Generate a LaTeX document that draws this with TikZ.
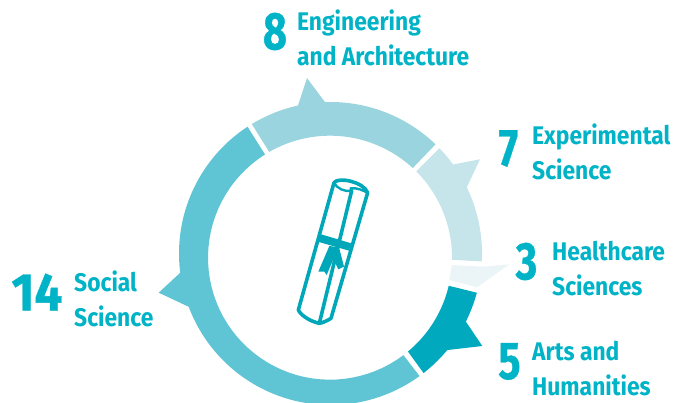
\documentclass[tikz,border=0pt]{standalone}
\usepackage{fontspec}
\setmainfont{Fira Sans}[FakeStretch=0.895]
\newfontfamily\digitfont{Fira Sans}[FakeStretch=0.78,FakeBold=0.6]
\definecolor{cEng}{HTML}{9AD5DF}
\definecolor{cExp}{HTML}{C6E5EB}
\definecolor{cHea}{HTML}{EBF5F8}
\definecolor{cArt}{HTML}{00A9BD}
\definecolor{cSoc}{HTML}{5FC4D4}
\definecolor{cTxt}{HTML}{00B3C6}
\definecolor{cIcon}{HTML}{00A7B9}
\tikzset{x=1pt,y=-1pt,
 numlabel/.style={text=cTxt,font=\digitfont\fontsize{53}{53}\selectfont\bfseries,inner sep=0pt,anchor=center},
 catlabel/.style={text=cTxt,font=\fontsize{25.5}{35}\selectfont\bfseries,inner sep=0pt,anchor=base west,align=left},
 iconline/.style={draw=cIcon,line width=3.6pt,line join=round,line cap=round,fill=none},
 arcpts/.style={samples=50}}
\def\Ox{330.5+151.5*cos(\x)}\def\Oy{253.5-151.5*sin(\x)}
\def\Ix{330+122*cos(\x)}\def\Iy{257.7-122*sin(\x)}
\begin{document}
\begin{tikzpicture}
\useasboundingbox (0,0) rectangle (682,403);
\begin{scope}
\clip (0,0) rectangle (682,403);
% Engineering
\fill[cEng] plot[arcpts,domain=121.3:102.4] ({\Ox},{\Oy}) -- (307,78) -- plot[arcpts,domain=92.1:46.1] ({\Ox},{\Oy}) -- plot[arcpts,domain=47.3:119.9] ({\Ix},{\Iy}) -- cycle;
% Experimental
\fill[cExp] plot[arcpts,domain=44:36] ({\Ox},{\Oy}) -- (480,159.3) -- plot[arcpts,domain=25.9:-3] ({\Ox},{\Oy}) -- plot[arcpts,domain=-1:45] ({\Ix},{\Iy}) -- cycle;
% Healthcare
\fill[cHea] (451.7,265) -- (483,266.7) -- (509.3,264.3) -- (477.3,287.3) -- (449.3,280) -- cycle;
% Arts
\fill[cArt] plot[arcpts,domain=-15:-26.7] ({\Ox},{\Oy}) -- (482.3,346) -- plot[arcpts,domain=-39.6:-52.1] ({\Ox},{\Oy}) -- plot[arcpts,domain=-50.3:-13.3] ({\Ix},{\Iy}) -- cycle;
% Social
\fill[cSoc] plot[arcpts,domain=-54:-159.4] ({\Ox},{\Oy}) -- (158.7,292.7) -- plot[arcpts,domain=-172.7:-236.8] ({\Ox},{\Oy}) -- plot[arcpts,domain=-237.8:-53] ({\Ix},{\Iy}) -- cycle;
\end{scope}
% Scroll icon
\begin{scope}[shift={(270,160)},x=0.3333pt,y=-0.3333pt]
\draw[iconline] (192,68) -- (85,450) .. controls (95,470) and (125,485) .. (148,490) -- (245,92);
\draw[iconline] (148,490) .. controls (160,488) and (172,482) .. (183,475) -- (293,98);
\draw[iconline] (192,68) .. controls (205,50) and (280,65) .. (293,98);
\draw[iconline,line width=2.4pt] (192,68) .. controls (200,85) and (225,97) .. (245,92) -- (242,85) .. controls (260,82) and (280,92) .. (293,98);
\fill[cIcon] (150,222) -- (244,250) -- (237,272) -- (143,245) -- cycle;
\fill[cIcon] (178,258) -- (145,335) -- (163,335) -- (170,345) -- (190,298) -- (205,328) -- (222,320) -- (207,262) -- cycle;
\end{scope}
% Numbers
\node[numlabel] (n8) at (275,31.5) {8};
\node[numlabel] (n7) at (508.5,148.5) {7};
\node[numlabel] (n3) at (526.5,261.5) {3};
\node[numlabel] (n5) at (509.5,361.5) {5};
\node[numlabel] (n14) at (37,292) {\scalebox{1.2}[1]{14}};
% Labels
\node[catlabel] (lEng) at (297,65.7) {Engineering\\and Architecture};
\node[catlabel] (lExp) at (532,180) {Experimental\\Science};
\node[catlabel] (lHea) at (552,295) {Healthcare\\Sciences};
\node[catlabel] (lArt) at (532,395) {Arts and\\Humanities};
\node[catlabel] (lSoc) at (74,326) {Social\\Science};
\end{tikzpicture}
\end{document}
